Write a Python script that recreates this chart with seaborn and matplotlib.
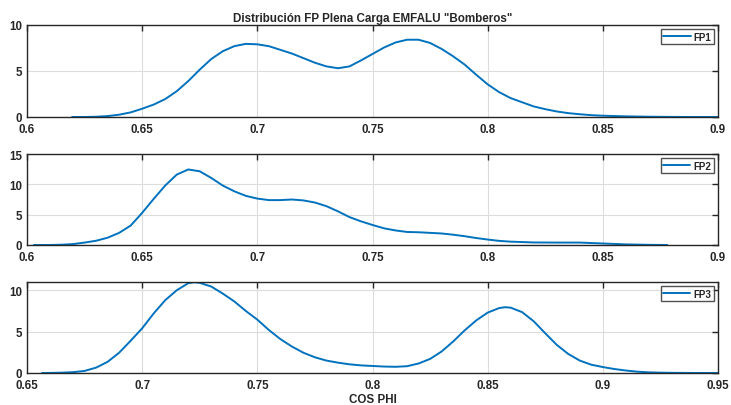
import matplotlib
matplotlib.use("Agg")
import matplotlib.pyplot as plt
import seaborn as sns
import pandas as pd

# Kernel density estimates of the power factor (COS PHI), one per feeder
fp1_x = [0.6196, 0.625, 0.63, 0.635, 0.64, 0.645, 0.65, 0.655, 0.66, 0.665, 0.67, 0.675, 0.68,
         0.685, 0.69, 0.695, 0.70, 0.705, 0.71, 0.715, 0.72, 0.725, 0.73, 0.735, 0.74, 0.745,
         0.75, 0.755, 0.76, 0.765, 0.77, 0.775, 0.78, 0.785, 0.79, 0.795, 0.80, 0.805, 0.81,
         0.815, 0.82, 0.825, 0.83, 0.835, 0.84, 0.845, 0.85, 0.86, 0.87, 0.88, 0.89, 0.90]
fp1_y = [0.0, 0.0, 0.03, 0.1, 0.25, 0.5, 0.9, 1.35, 1.95, 2.8, 3.9, 5.15, 6.3,
         7.15, 7.7, 7.95, 7.9, 7.7, 7.3, 6.9, 6.4, 5.9, 5.5, 5.3, 5.5, 6.15,
         6.85, 7.55, 8.1, 8.4, 8.4, 8.05, 7.4, 6.6, 5.7, 4.6, 3.55, 2.7, 2.05,
         1.6, 1.15, 0.85, 0.6, 0.42, 0.3, 0.2, 0.14, 0.07, 0.03, 0.01, 0.0, 0.0]

fp2_x = [0.603, 0.61, 0.615, 0.62, 0.625, 0.63, 0.635, 0.64, 0.645, 0.65, 0.655, 0.66, 0.665,
         0.67, 0.675, 0.68, 0.685, 0.69, 0.695, 0.70, 0.705, 0.71, 0.715, 0.72, 0.725, 0.73,
         0.735, 0.74, 0.745, 0.75, 0.755, 0.76, 0.765, 0.77, 0.775, 0.78, 0.785, 0.79, 0.795,
         0.80, 0.805, 0.81, 0.82, 0.83, 0.84, 0.85, 0.86, 0.87, 0.878]
fp2_y = [0.0, 0.0, 0.05, 0.15, 0.4, 0.7, 1.2, 2.0, 3.2, 5.3, 7.6, 9.8, 11.6,
         12.45, 12.15, 11.05, 9.8, 8.85, 8.1, 7.65, 7.4, 7.4, 7.5, 7.35, 7.0, 6.4,
         5.55, 4.6, 3.9, 3.3, 2.75, 2.4, 2.15, 2.1, 2.0, 1.9, 1.7, 1.45, 1.15,
         0.9, 0.68, 0.55, 0.42, 0.4, 0.4, 0.25, 0.1, 0.03, 0.0]

fp3_x = [0.6565, 0.66, 0.665, 0.67, 0.675, 0.68, 0.685, 0.69, 0.695, 0.70, 0.705, 0.71, 0.715,
         0.72, 0.7225, 0.725, 0.73, 0.735, 0.74, 0.745, 0.75, 0.755, 0.76, 0.765, 0.77, 0.775,
         0.78, 0.785, 0.79, 0.795, 0.80, 0.805, 0.81, 0.815, 0.82, 0.825, 0.83, 0.835, 0.84,
         0.845, 0.85, 0.855, 0.8575, 0.86, 0.865, 0.87, 0.875, 0.88, 0.885, 0.89, 0.895, 0.90,
         0.905, 0.91, 0.915, 0.92, 0.925, 0.93, 0.94, 0.95]
fp3_y = [0.0, 0.01, 0.04, 0.1, 0.25, 0.65, 1.35, 2.45, 3.9, 5.4, 7.2, 8.8, 10.0,
         10.85, 10.97, 10.9, 10.45, 9.6, 8.65, 7.5, 6.45, 5.2, 4.1, 3.2, 2.45, 1.9,
         1.5, 1.25, 1.05, 0.92, 0.85, 0.78, 0.75, 0.82, 1.15, 1.7, 2.6, 3.8, 5.15,
         6.35, 7.3, 7.85, 7.95, 7.9, 7.35, 6.25, 4.8, 3.4, 2.3, 1.5, 1.0, 0.72,
         0.48, 0.3, 0.16, 0.08, 0.04, 0.02, 0.005, 0.0]

series = [("FP1", fp1_x, fp1_y), ("FP2", fp2_x, fp2_y), ("FP3", fp3_x, fp3_y)]
xlims = [(0.6, 0.9), (0.6, 0.9), (0.65, 0.95)]
ylims = [(0, 10), (0, 15), (0, 11)]
xticks = [[0.6, 0.65, 0.7, 0.75, 0.8, 0.85, 0.9],
          [0.6, 0.65, 0.7, 0.75, 0.8, 0.85, 0.9],
          [0.65, 0.7, 0.75, 0.8, 0.85, 0.9, 0.95]]
yticks = [[0, 5, 10], [0, 5, 10, 15], [0, 5, 10]]

title = 'Distribución FP Plena Carga EMFALU "Bomberos"'
xlabel = "COS PHI"

sns.set_style("white")
plt.rcParams["font.family"] = ["Liberation Sans", "DejaVu Sans"]

fig = plt.figure(figsize=(7.31, 4.06), dpi=100)
W, H = 731, 406
right_px = 718
boxes = [(27, 26, 118), (27, 155, 246), (27, 283, 374)]
line_color = "#0072BD"
text_color = "#262626"

for (name, xs, ys), xl, yl, xt, yt, (lp, tp, bp) in zip(series, xlims, ylims, xticks, yticks, boxes):
    ax = fig.add_axes([lp / W, 1 - bp / H, (right_px - lp) / W, (bp - tp) / H])
    df = pd.DataFrame({"x": xs, "y": ys})
    sns.lineplot(data=df, x="x", y="y", ax=ax, color=line_color, linewidth=1.4,
                 label=name, sort=True, estimator=None)
    ax.set_xlim(*xl)
    ax.set_ylim(*yl)
    ax.set_xticks(xt)
    ax.set_yticks(yt)
    ax.set_xticklabels([f"{v:g}" for v in xt])
    ax.set_yticklabels([f"{v:g}" for v in yt])
    ax.set_xlabel("")
    ax.set_ylabel("")
    ax.grid(True, color="#dcdcdc", linewidth=0.8)
    ax.set_axisbelow(True)
    ax.tick_params(axis="both", direction="in", length=4, width=1.0, top=True, right=True,
                   labelsize=8.3, colors=text_color)
    ax.tick_params(axis="x", pad=4.5)
    ax.tick_params(axis="y", pad=3.5)
    for lab in ax.get_xticklabels() + ax.get_yticklabels():
        lab.set_fontweight("bold")
    for sp in ax.spines.values():
        sp.set_color("#262626")
        sp.set_linewidth(1.0)
    leg = ax.legend(loc="upper right", frameon=True, fancybox=False,
                    handlelength=2.8, handletextpad=0.3, borderpad=0.25,
                    borderaxespad=0.45, prop={"weight": "bold", "size": 7})
    leg.get_frame().set_edgecolor("#262626")
    leg.get_frame().set_linewidth(1.0)
    for t in leg.get_texts():
        t.set_color(text_color)
    if name == "FP1":
        ax.set_title(title, fontsize=8.4, fontweight="bold", color=text_color, pad=3)
    if name == "FP3":
        ax.set_xlabel(xlabel, fontsize=8.4, fontweight="bold", color=text_color, labelpad=1)

fig.savefig("out.png", dpi=100)
